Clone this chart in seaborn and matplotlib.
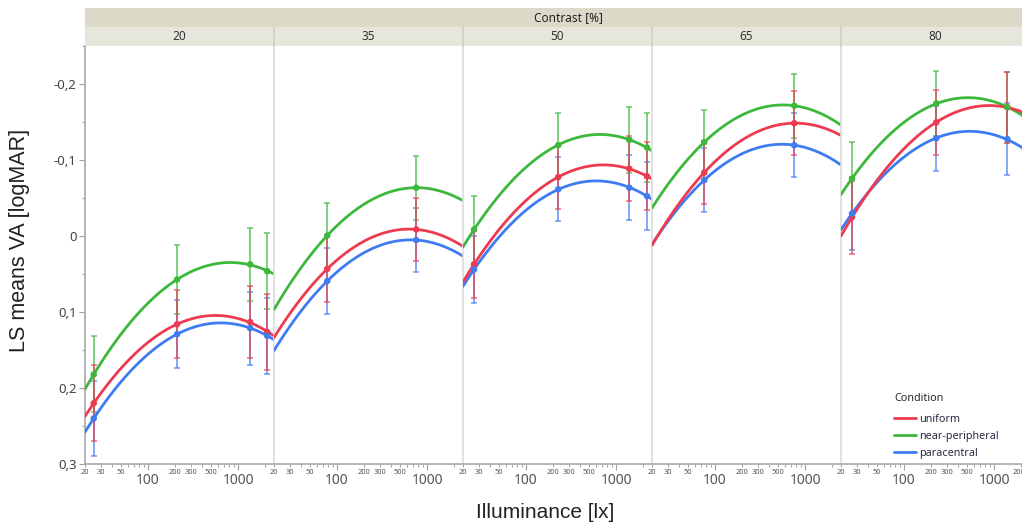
import numpy as np
import pandas as pd
import matplotlib
matplotlib.use('Agg')
import matplotlib.pyplot as plt
import seaborn as sns
from matplotlib.patches import Rectangle
from matplotlib.lines import Line2D
from matplotlib.ticker import FixedLocator, FuncFormatter

sns.set_style('white')
plt.rcParams['font.family'] = ['Noto Sans', 'DejaVu Sans']

# Data
contrasts = [20, 35, 50, 65, 80]
conditions = ['uniform', 'near-peripheral', 'paracentral']
colors = {'uniform': '#ee3a50', 'near-peripheral': '#3cb83c', 'paracentral': '#3f7cf2'}

lux_20 = [25, 210, 1360, 2100]
lux_35 = [78, 757]
lux_50 = [26.5, 228, 1400, 2200]
lux_65 = [76, 757]
lux_80 = [26.5, 228, 1400, 2200]

uniform_20 = [0.220, 0.116, 0.113, 0.126]
uniform_35 = [0.043, -0.009]
uniform_50 = [0.037, -0.078, -0.089, -0.079]
uniform_65 = [-0.084, -0.149]
uniform_80 = [-0.025, -0.150, -0.170, -0.162]

nearper_20 = [0.182, 0.057, 0.037, 0.046]
nearper_35 = [-0.001, -0.064]
nearper_50 = [-0.009, -0.120, -0.127, -0.117]
nearper_65 = [-0.124, -0.172]
nearper_80 = [-0.076, -0.175, -0.170, -0.157]

paracen_20 = [0.240, 0.129, 0.121, 0.131]
paracen_35 = [0.059, 0.005]
paracen_50 = [0.044, -0.062, -0.064, -0.053]
paracen_65 = [-0.074, -0.120]
paracen_80 = [-0.030, -0.129, -0.128, -0.114]

# half width of the error bars
err_20 = [0.050, 0.045, 0.048, 0.050]
err_35 = [0.043, 0.042]
err_50 = [0.044, 0.042, 0.043, 0.045]
err_65 = [0.042, 0.042]
err_80 = [0.048, 0.043, 0.047, 0.047]

lux = dict(zip(contrasts, [lux_20, lux_35, lux_50, lux_65, lux_80]))
errs = dict(zip(contrasts, [err_20, err_35, err_50, err_65, err_80]))
vals = {
    'uniform': dict(zip(contrasts, [uniform_20, uniform_35, uniform_50, uniform_65, uniform_80])),
    'near-peripheral': dict(zip(contrasts, [nearper_20, nearper_35, nearper_50, nearper_65, nearper_80])),
    'paracentral': dict(zip(contrasts, [paracen_20, paracen_35, paracen_50, paracen_65, paracen_80])),
}

rows = []
for cond in conditions:
    for c in contrasts:
        for lx, v, e in zip(lux[c], vals[cond][c], errs[c]):
            rows.append({'Condition': cond, 'Contrast': c, 'Lux': lx, 'VA': v, 'Err': e})
points = pd.DataFrame(rows)

# Quadratic fit in log(lux): own intercept+slope per contrast, shared curvature
xlim = (20, 2500)
grid = np.logspace(np.log10(xlim[0]), np.log10(xlim[1]), 80)
curve_rows = []
for cond in conditions:
    sub = points[points.Condition == cond]
    X = np.zeros((len(sub), 2 * len(contrasts) + 1))
    for k, (_, r) in enumerate(sub.iterrows()):
        i = contrasts.index(r.Contrast)
        L = np.log10(r.Lux)
        X[k, 2 * i] = 1
        X[k, 2 * i + 1] = L
        X[k, -1] = L ** 2
    coef = np.linalg.lstsq(X, sub.VA.values, rcond=None)[0]
    for i, c in enumerate(contrasts):
        L = np.log10(grid)
        fit = coef[2 * i] + coef[2 * i + 1] * L + coef[-1] * L ** 2
        for lx, f in zip(grid, fit):
            curve_rows.append({'Condition': cond, 'Contrast': c, 'Lux': lx, 'VA': f})
curves = pd.DataFrame(curve_rows)

# Layout in pixels
W, H = 1022, 526
x0, pw = 85, 189
y_top, y_bot = 46.5, 464

fig = plt.figure(figsize=(W / 100, H / 100), dpi=100)

minor_x = [20, 30, 40, 50, 60, 70, 80, 90, 200, 300, 400, 500, 600, 700, 800, 900, 2000]

for i, c in enumerate(contrasts):
    ax = fig.add_axes([(x0 + i * pw) / W, (H - y_bot) / H, pw / W, (y_bot - y_top) / H])
    ax.set_xscale('log')
    ax.set_xlim(*xlim)
    ax.set_ylim(0.3, -0.25)
    ax.patch.set_alpha(0)

    cd = curves[curves.Contrast == c]
    pd_ = points[points.Contrast == c]
    for cond in ['paracentral', 'near-peripheral', 'uniform']:
        s = pd_[pd_.Condition == cond]
        ax.errorbar(s.Lux, s.VA, yerr=s.Err, fmt='none', ecolor=colors[cond],
                    alpha=0.7, elinewidth=1.3, capsize=2.5, capthick=1.2, zorder=2)
    sns.lineplot(data=cd, x='Lux', y='VA', hue='Condition', hue_order=conditions[::-1],
                 palette=colors, legend=False, ax=ax, linewidth=2.0, estimator=None,
                 sort=True, zorder=3)
    sns.scatterplot(data=pd_, x='Lux', y='VA', hue='Condition', hue_order=conditions[::-1],
                    palette=colors, legend=False, ax=ax, s=22, edgecolor='none', zorder=4)
    ax.set_xlabel('')
    ax.set_ylabel('')

    # x ticks
    ax.xaxis.set_major_locator(FixedLocator([100, 1000]))
    ax.xaxis.set_major_formatter(FuncFormatter(lambda v, p: '%d' % v))
    ax.xaxis.set_minor_locator(FixedLocator(minor_x))
    shown = {20, 30, 50, 200, 300, 500}
    if i == len(contrasts) - 1:
        shown = shown | {2000}
    ax.xaxis.set_minor_formatter(FuncFormatter(lambda v, p, sh=shown: ('%d' % v) if round(v) in sh else ''))
    ax.tick_params(axis='x', which='major', bottom=True, length=4, width=0.8, color='#a0a0a0',
                   labelsize=10, pad=2.5, labelcolor='#555555')
    ax.tick_params(axis='x', which='minor', bottom=True, length=2.5, width=0.7, color='#a0a0a0',
                   labelsize=5.3, pad=1.2, labelcolor='#555555')

    for side in ['top', 'right']:
        ax.spines[side].set_visible(False)
    ax.spines['bottom'].set_color('#a8a8a8')
    ax.spines['bottom'].set_linewidth(1.2)
    if i == 0:
        ax.spines['left'].set_color('#a8a8a8')
        ax.yaxis.set_major_locator(FixedLocator([-0.2, -0.1, 0, 0.1, 0.2, 0.3]))
        ax.yaxis.set_major_formatter(FuncFormatter(
            lambda v, p: '0' if abs(v) < 1e-9 else ('%.1f' % v).replace('.', ',')))
        ax.yaxis.set_minor_locator(FixedLocator([-0.25, -0.15, -0.05, 0.05, 0.15, 0.25]))
        ax.tick_params(axis='y', which='major', left=True, length=4, width=0.8, color='#a0a0a0',
                       labelsize=9.5, pad=2, labelcolor='#444444')
        ax.tick_params(axis='y', which='minor', left=True, length=2.5, width=0.7, color='#a0a0a0')
    else:
        ax.spines['left'].set_color('#dcdcdc')
        ax.tick_params(axis='y', which='both', left=False, labelleft=False)
    ax.spines['left'].set_linewidth(1.2)

    # contrast strip
    fig.add_artist(Rectangle(((x0 + i * pw) / W, (H - 46) / H), pw / W, 19 / H,
                             transform=fig.transFigure, facecolor='#e7e6dd', edgecolor='none'))
    if i > 0:
        fig.add_artist(Line2D([(x0 + i * pw) / W] * 2, [(H - 46) / H, (H - 27) / H],
                              transform=fig.transFigure, color='#cfcec5', lw=1.2))
    fig.text((x0 + i * pw + pw / 2) / W, (H - 36.5) / H, str(c), ha='center', va='center',
             fontsize=8.5, color='#333333')

# header band
fig.add_artist(Rectangle((x0 / W, (H - 27) / H), 1.0, 19 / H, transform=fig.transFigure,
                         facecolor='#dcd9c9', edgecolor='none'))
fig.text(568 / W, (H - 17.5) / H, 'Contrast [%]', ha='center', va='center', fontsize=8.5,
         fontweight='bold', color='#222222')

fig.text(20 / W, (H - 240) / H, 'LS means VA [logMAR]', rotation=90, ha='center', va='center',
         fontsize=15.5, color='#222222', family=['Liberation Sans', 'DejaVu Sans'])
fig.text(545 / W, (H - 512) / H, 'Illuminance [lx]', ha='center', va='center',
         fontsize=15, color='#222222', family=['Liberation Sans', 'DejaVu Sans'])

handles = [Line2D([], [], color=colors[c], lw=2) for c in conditions]
leg = fig.legend(handles, conditions, title='Condition', loc='upper left',
                 bbox_to_anchor=(889 / W, 1 - 388 / H), frameon=False, fontsize=7.8,
                 title_fontsize=7.8, handlelength=2.0, handletextpad=0.3, labelspacing=0.55,
                 borderpad=0, alignment='left', labelcolor='#2a2a40')
leg._legend_box.sep = 7

fig.savefig('out.png', dpi=100)
